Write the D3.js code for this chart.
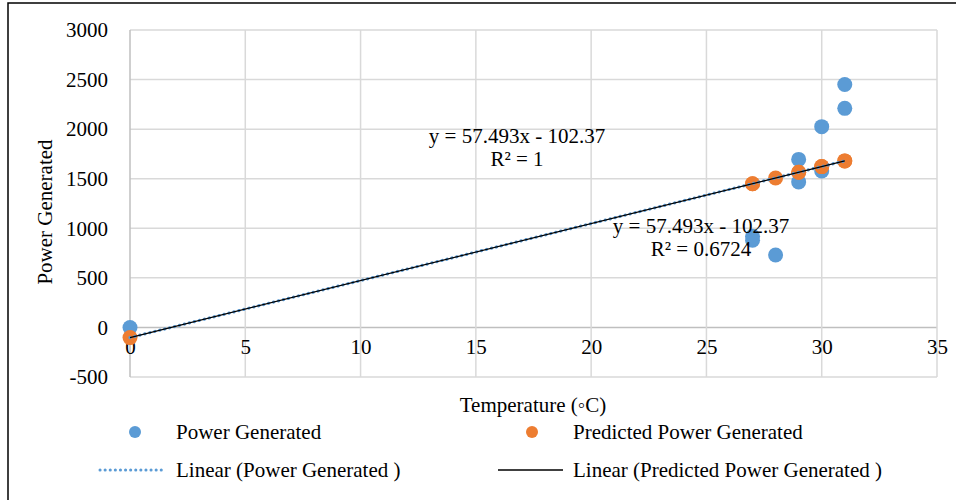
<!DOCTYPE html>
<html>
<head>
<meta charset="utf-8">
<script src="https://cdn.jsdelivr.net/npm/d3@7"></script>
<style>
  html, body { margin: 0; padding: 0; background: #fff; }
  svg { display: block; font-family: "Liberation Serif", "Times New Roman", serif; }
</style>
</head>
<body>
<svg id="chart" width="956" height="500"></svg>
<script>
// temperature (°C) and power readings
const tempValues = [0, 27, 27, 28, 29, 29, 30, 30, 31, 31];
const powerValues = [0, 920, 880, 730, 1695, 1468, 1579, 2025, 2210, 2450];
// predicted = 57.493x - 102.37
const predictedValues = [-102.37, 1449.9, 1449.9, 1507.4, 1564.9, 1564.9, 1622.4, 1622.4, 1679.9, 1679.9];

const trendSlope = 57.493, trendIntercept = -102.37;
const trendRange = [0, 31];
const xTicks = [0, 5, 10, 15, 20, 25, 30, 35];
const yTicks = [-500, 0, 500, 1000, 1500, 2000, 2500, 3000];

const blue = '#5B9BD5', orange = '#ED7D31';
const fontSize = 21;

const svg = d3.select('#chart');
const x = d3.scaleLinear([0, 35], [130, 937]);
const y = d3.scaleLinear([-500, 3000], [377, 30]);

// outer frame (only top and left visible in the reference)
svg.append('rect')
  .attr('x', 8).attr('y', 3)
  .attr('width', 1000).attr('height', 600)
  .attr('fill', 'none').attr('stroke', '#000').attr('stroke-width', 1.5);

// grid
const grid = svg.append('g');
grid.selectAll('.hgrid')
  .data(yTicks)
  .join('line')
    .attr('x1', x(0)).attr('x2', x(35))
    .attr('y1', d => y(d)).attr('y2', d => y(d))
    .attr('stroke', d => d === 0 ? '#bfbfbf' : '#d9d9d9')
    .attr('stroke-width', 1.5);
grid.selectAll('.vgrid')
  .data(xTicks)
  .join('line')
    .attr('y1', y(-500)).attr('y2', y(3000))
    .attr('x1', d => x(d)).attr('x2', d => x(d))
    .attr('stroke', d => d === 0 ? '#bfbfbf' : '#d9d9d9')
    .attr('stroke-width', 1.5);

// axes (labels only)
const plain = d => String(d);
svg.append('g')
  .attr('transform', `translate(${x(0) - 19}, 0)`)
  .call(d3.axisLeft(y).tickValues(yTicks).tickSize(0).tickFormat(plain))
  .call(g => g.select('.domain').remove())
  .call(g => g.selectAll('text')
    .attr('font-size', fontSize).attr('font-family', 'Liberation Serif').attr('fill', '#000'));

svg.append('g')
  .attr('transform', `translate(0, ${y(0) + 9})`)
  .call(d3.axisBottom(x).tickValues(xTicks).tickSize(0).tickFormat(plain))
  .call(g => g.select('.domain').remove())
  .call(g => g.selectAll('text')
    .attr('font-size', fontSize).attr('font-family', 'Liberation Serif').attr('fill', '#000'));

// axis titles
svg.append('text')
  .attr('transform', 'translate(52, 212) rotate(-90)')
  .attr('text-anchor', 'middle')
  .attr('font-size', fontSize)
  .text('Power Generated');
svg.append('text')
  .attr('x', 533).attr('y', 412)
  .attr('text-anchor', 'middle')
  .attr('font-size', fontSize)
  .text('Temperature (◦C)');

// points
svg.append('g').selectAll('circle')
  .data(d3.zip(tempValues, powerValues))
  .join('circle')
    .attr('cx', d => x(d[0])).attr('cy', d => y(d[1]))
    .attr('r', 7.5).attr('fill', blue);
svg.append('g').selectAll('circle')
  .data(d3.zip(tempValues, predictedValues))
  .join('circle')
    .attr('cx', d => x(d[0])).attr('cy', d => y(d[1]))
    .attr('r', 7.5).attr('fill', orange);

// trend lines
const trendPts = trendRange.map(t => [x(t), y(trendSlope * t + trendIntercept)]);
svg.append('path')
  .attr('d', d3.line()(trendPts))
  .attr('fill', 'none').attr('stroke', blue)
  .attr('stroke-width', 3.2).attr('stroke-linecap', 'round')
  .attr('stroke-dasharray', '0.1 5');
svg.append('path')
  .attr('d', d3.line()(trendPts))
  .attr('fill', 'none').attr('stroke', '#000')
  .attr('stroke-width', 1.2);

// trend labels
const labels = [
  { cx: 517, y: 143, lines: ['y = 57.493x - 102.37', 'R² = 1'] },
  { cx: 701, y: 233, lines: ['y = 57.493x - 102.37', 'R² = 0.6724'] }
];
labels.forEach(l => {
  svg.append('text')
    .attr('text-anchor', 'middle')
    .attr('font-size', fontSize)
    .selectAll('tspan')
    .data(l.lines)
    .join('tspan')
      .attr('x', l.cx)
      .attr('y', (d, i) => l.y + i * 23)
      .text(d => d);
});

// legend
const legend = svg.append('g').attr('font-size', fontSize);
const legendItems = [
  { type: 'dot', color: blue, x: 135, y: 432, tx: 176, label: 'Power Generated' },
  { type: 'dot', color: orange, x: 532, y: 432, tx: 573, label: 'Predicted Power Generated' },
  { type: 'dotted', color: blue, x: 100, y: 470, tx: 176, label: 'Linear (Power Generated )' },
  { type: 'solid', color: '#000', x: 498, y: 470, tx: 573, label: 'Linear (Predicted Power Generated )' }
];
legendItems.forEach(it => {
  if (it.type === 'dot') {
    legend.append('circle').attr('cx', it.x).attr('cy', it.y).attr('r', 6).attr('fill', it.color);
  } else {
    legend.append('line')
      .attr('x1', it.x).attr('x2', it.x + 65)
      .attr('y1', it.y).attr('y2', it.y)
      .attr('stroke', it.color)
      .attr('stroke-width', it.type === 'dotted' ? 3 : 1.3)
      .attr('stroke-linecap', it.type === 'dotted' ? 'round' : 'butt')
      .attr('stroke-dasharray', it.type === 'dotted' ? '0.1 5' : null);
  }
  legend.append('text')
    .attr('x', it.tx).attr('y', it.y + 7)
    .text(it.label);
});
</script>
</body>
</html>
